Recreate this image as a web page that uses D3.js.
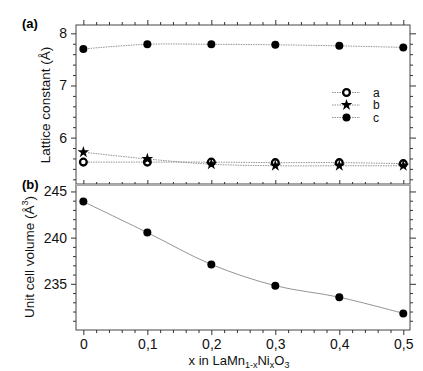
<!DOCTYPE html>
<html lang="en">
<head>
  <meta charset="UTF-8">
  <title>Lattice constants LaMn1-xNixO3</title>
  <script src="https://d3js.org/d3.v7.min.js"></script>
  <style>
    body { margin: 0; background: #fff; }
    svg { display: block; font-family: "Liberation Sans", Arial, sans-serif; }
    .tick text { font-size: 14px; fill: #111; }
    .domain { display: none; }
  </style>
</head>
<body>
  <svg width="423" height="371"></svg>

  <script>
    // data
    const xVals = [0, 0.1, 0.2, 0.3, 0.4, 0.5];
    const aVals = [5.53, 5.53, 5.53, 5.52, 5.52, 5.50];
    const bVals = [5.72, 5.59, 5.49, 5.46, 5.46, 5.46];
    const cVals = [7.70, 7.79, 7.79, 7.78, 7.76, 7.73];
    const volVals = [243.9, 240.55, 237.1, 234.8, 233.55, 231.8];
    const seriesNames = ["a", "b", "c"];
    const xTicks = [0, 0.1, 0.2, 0.3, 0.4, 0.5];
    const topTicks = [6, 7, 8];
    const botTicks = [235, 240, 245];

    const svg = d3.select("svg");
    const left = 76, right = 410;
    const x = d3.scaleLinear().domain([-0.0115, 0.5105]).range([left, right]);
    const yTop = d3.scaleLinear().domain([5.11, 8.16]).range([184, 25]);
    const yBot = d3.scaleLinear().domain([230, 245.7]).range([330, 185]);

    const fmt = d => d === 0 ? "0" : d3.format(".1f")(d).replace(".", ",");
    const minorX = d3.range(0, 0.5001, 0.02).filter(v => Math.abs(Math.round(v * 10) - v * 10) > 1e-6);

    // mk: () => fresh d3 axis generator
    function axis(mk, pos, major, minor, labels, format, len) {
      const g = svg.append("g").attr("transform", pos);
      g.append("g").call(mk().tickValues(minor).tickSize(3).tickFormat(""));
      g.append("g").call(mk().tickValues(major).tickSize(len).tickPadding(4)
        .tickFormat(labels ? format : ""));
      g.selectAll("line").attr("stroke", "#333");
    }

    function panel(y, ticks, minor, tf, top, bottom) {
      // frame
      svg.append("rect")
        .attr("x", left).attr("y", top)
        .attr("width", right - left).attr("height", bottom - top)
        .attr("fill", "none").attr("stroke", "#444").attr("stroke-width", 1);
      axis(() => d3.axisLeft(y), `translate(${left},0)`, ticks, minor, true, tf, 5);
      axis(() => d3.axisRight(y), `translate(${right},0)`, ticks, minor, false, tf, 6);
      axis(() => d3.axisTop(x), `translate(0,${top})`, xTicks, minorX, false, fmt, 5);
    }

    const minorTop = d3.range(5.2, 8.15, 0.2).filter(v => Math.abs(v - Math.round(v)) > 1e-6);
    const minorBot = d3.range(230, 245.5, 1).filter(v => v % 5 !== 0);
    panel(yTop, topTicks, minorTop, d3.format("d"), 25, 184);
    panel(yBot, botTicks, minorBot, d3.format("d"), 185, 330);
    axis(() => d3.axisBottom(x), `translate(0,330)`, xTicks, minorX, true, fmt, 5);

    // grey separator between panels
    svg.append("line")
      .attr("x1", left).attr("x2", right)
      .attr("y1", 185).attr("y2", 185)
      .attr("stroke", "#aaa").attr("stroke-width", 2);

    // top panel lines
    const topSeries = [aVals, bVals, cVals];
    const lineTop = d3.line().x((d, i) => x(xVals[i])).y(d => yTop(d)).curve(d3.curveCatmullRom);
    topSeries.forEach(s => {
      svg.append("path").datum(s)
        .attr("d", lineTop)
        .attr("fill", "none").attr("stroke", "#777")
        .attr("stroke-width", 0.8).attr("stroke-dasharray", "1.5,1");
    });

    function marker(sel, name) {
      if (name === "a") {
        sel.append("circle").attr("r", 3.4)
          .attr("fill", "#fff").attr("stroke", "#000").attr("stroke-width", 2.3);
      } else if (name === "b") {
        sel.append("path").attr("d", d3.symbol().type(d3.symbolStar).size(42)).attr("fill", "#000");
      } else {
        sel.append("circle").attr("r", 4).attr("fill", "#000");
      }
    }

    topSeries.forEach((s, k) => {
      s.forEach((v, i) => {
        const g = svg.append("g").attr("transform", `translate(${x(xVals[i])},${yTop(v)})`);
        marker(g, seriesNames[k]);
      });
    });

    // legend
    seriesNames.forEach((n, k) => {
      const ly = 92.5 + k * 12.5;
      svg.append("line").attr("x1", 332).attr("x2", 360).attr("y1", ly).attr("y2", ly)
        .attr("stroke", "#777").attr("stroke-width", 0.8).attr("stroke-dasharray", "1.5,1");
      marker(svg.append("g").attr("transform", `translate(346.5,${ly})`), n);
      svg.append("text").attr("x", 373).attr("y", ly + 4)
        .attr("font-size", 12).attr("fill", "#111").text(n);
    });

    // bottom panel
    const lineBot = d3.line().x((d, i) => x(xVals[i])).y(d => yBot(d)).curve(d3.curveCatmullRom);
    svg.append("path").datum(volVals)
      .attr("d", lineBot)
      .attr("fill", "none").attr("stroke", "#888").attr("stroke-width", 0.9);
    svg.selectAll(".vol").data(volVals).join("circle")
      .attr("class", "vol")
      .attr("cx", (d, i) => x(xVals[i])).attr("cy", d => yBot(d))
      .attr("r", 4).attr("fill", "#000");

    // panel tags
    svg.append("text").attr("x", 22).attr("y", 28)
      .attr("font-size", 13).attr("font-weight", "bold").text("(a)");
    svg.append("text").attr("x", 22).attr("y", 189)
      .attr("font-size", 13).attr("font-weight", "bold").text("(b)");

    // axis labels
    svg.append("text")
      .attr("transform", "translate(50,105) rotate(-90)")
      .attr("text-anchor", "middle").attr("font-size", 13.5).attr("fill", "#111")
      .text("Lattice constant  (\u00C5)");

    const yl = svg.append("text")
      .attr("transform", "translate(34,257) rotate(-90)")
      .attr("text-anchor", "middle").attr("font-size", 13.5).attr("fill", "#111");
    yl.append("tspan").text("Unit cell volume (\u00C5");
    yl.append("tspan").attr("font-size", 9).attr("dy", -6).text("3");
    yl.append("tspan").attr("dy", 6).text(")");

    const xl = svg.append("text")
      .attr("x", 239).attr("y", 365)
      .attr("text-anchor", "middle").attr("font-size", 13).attr("fill", "#111");
    xl.append("tspan").text("x in LaMn");
    xl.append("tspan").attr("font-size", 9).attr("dy", 2.5).text("1-x");
    xl.append("tspan").attr("dy", -2.5).text("Ni");
    xl.append("tspan").attr("font-size", 9).attr("dy", 2.5).text("x");
    xl.append("tspan").attr("dy", -2.5).text("O");
    xl.append("tspan").attr("font-size", 9).attr("dy", 2.5).text("3");
  </script>
</body>
</html>
